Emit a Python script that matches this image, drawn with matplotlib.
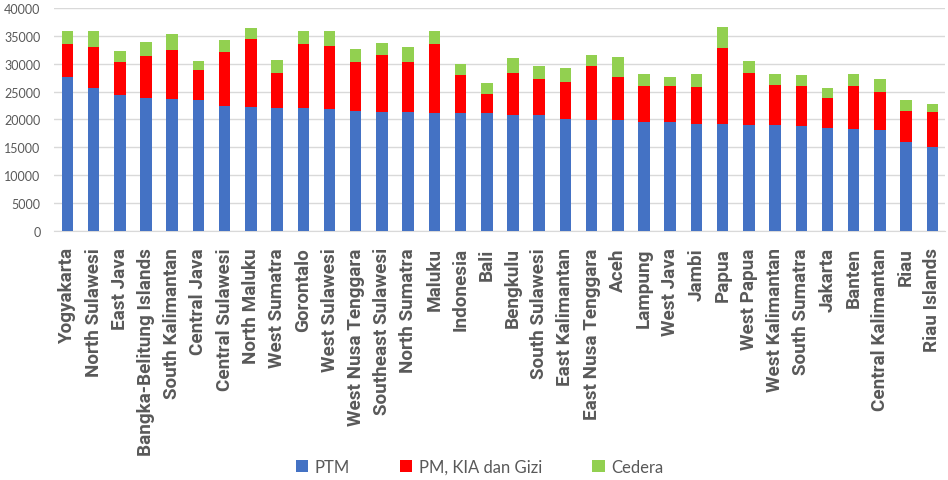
import matplotlib
matplotlib.use("Agg")
import matplotlib.pyplot as plt
import numpy as np

provinces = [
    "Yogyakarta", "North Sulawesi", "East Java", "Bangka-Belitung Islands",
    "South Kalimantan", "Central Java", "Central Sulawesi", "North Maluku",
    "West Sumatra", "Gorontalo", "West Sulawesi", "West Nusa Tenggara",
    "Southeast Sulawesi", "North Sumatra", "Maluku", "Indonesia", "Bali",
    "Bengkulu", "South Sulawesi", "East Kalimantan", "East Nusa Tenggara",
    "Aceh", "Lampung", "West Java", "Jambi", "Papua", "West Papua",
    "West Kalimantan", "South Sumatra", "Jakarta", "Banten",
    "Central Kalimantan", "Riau", "Riau Islands",
]

ptm = [27700, 25600, 24400, 23920, 23680, 23440, 22480, 22300, 22060, 22060,
       21820, 21580, 21340, 21340, 21100, 21100, 21100, 20860, 20860, 20140,
       19900, 19900, 19480, 19480, 19240, 19240, 19000, 19000, 18760, 18530,
       18290, 18050, 15950, 14990]

pm_kia_gizi = [5870, 7490, 5880, 7490, 8750, 5460, 9650, 12170, 6360, 11510,
               11450, 8700, 10310, 8940, 12470, 6840, 3540, 7560, 6360, 6600,
               9660, 7800, 6540, 6540, 6540, 13610, 9420, 7260, 7260, 5390,
               7730, 6830, 5630, 6350]

cedera = [2340, 2820, 2090, 2580, 3000, 1620, 2100, 1920, 2330, 2340,
          2640, 2330, 2160, 2810, 2340, 2100, 1860, 2570, 2340, 2580,
          2090, 3530, 2100, 1680, 2340, 3720, 2100, 1860, 1920, 1680,
          2100, 2340, 1860, 1440]

series_names = ["PTM", "PM, KIA dan Gizi", "Cedera"]
colors = ["#4472C4", "#FF0000", "#92D050"]

plt.rcParams["font.family"] = ["Lato", "DejaVu Sans"]
text_color = "#595959"

fig = plt.figure(figsize=(9.48, 4.81), dpi=100)
ax = fig.add_axes([0.0573, 0.5183, 0.9400, 0.4624])

x = np.arange(len(provinces))
width = 0.44
ptm_a = np.array(ptm)
pm_a = np.array(pm_kia_gizi)
ce_a = np.array(cedera)

b1 = ax.bar(x, ptm_a, width, color=colors[0], label=series_names[0], zorder=3)
b2 = ax.bar(x, pm_a, width, bottom=ptm_a, color=colors[1], label=series_names[1], zorder=3)
b3 = ax.bar(x, ce_a, width, bottom=ptm_a + pm_a, color=colors[2], label=series_names[2], zorder=3)

ax.set_xlim(-0.5, len(provinces) - 0.5)
ax.set_ylim(0, 40000)
ax.set_yticks(np.arange(0, 40001, 5000))
ax.yaxis.grid(True, color="#D9D9D9", linewidth=1.0, zorder=0)
ax.set_axisbelow(True)
for side in ["top", "right", "left"]:
    ax.spines[side].set_visible(False)
ax.spines["bottom"].set_color("#D9D9D9")
ax.tick_params(axis="both", length=0, colors=text_color)
ax.tick_params(axis="y", labelsize=9, pad=10)

ax.set_xticks(x)
ax.set_xticklabels(provinces, rotation=90, fontsize=13.6, fontweight="bold",
                   family=["Roboto", "DejaVu Sans"], color=text_color)
ax.tick_params(axis="x", pad=12)

handles = [b1, b2, b3]
fig.legend(handles, series_names, loc="center", bbox_to_anchor=(0.506, 0.027),
           ncol=3, frameon=False, fontsize=12, labelcolor=text_color,
           handlelength=0.75, handleheight=0.75, handletextpad=0.4,
           columnspacing=3.0)

fig.savefig("out.png", dpi=100)
